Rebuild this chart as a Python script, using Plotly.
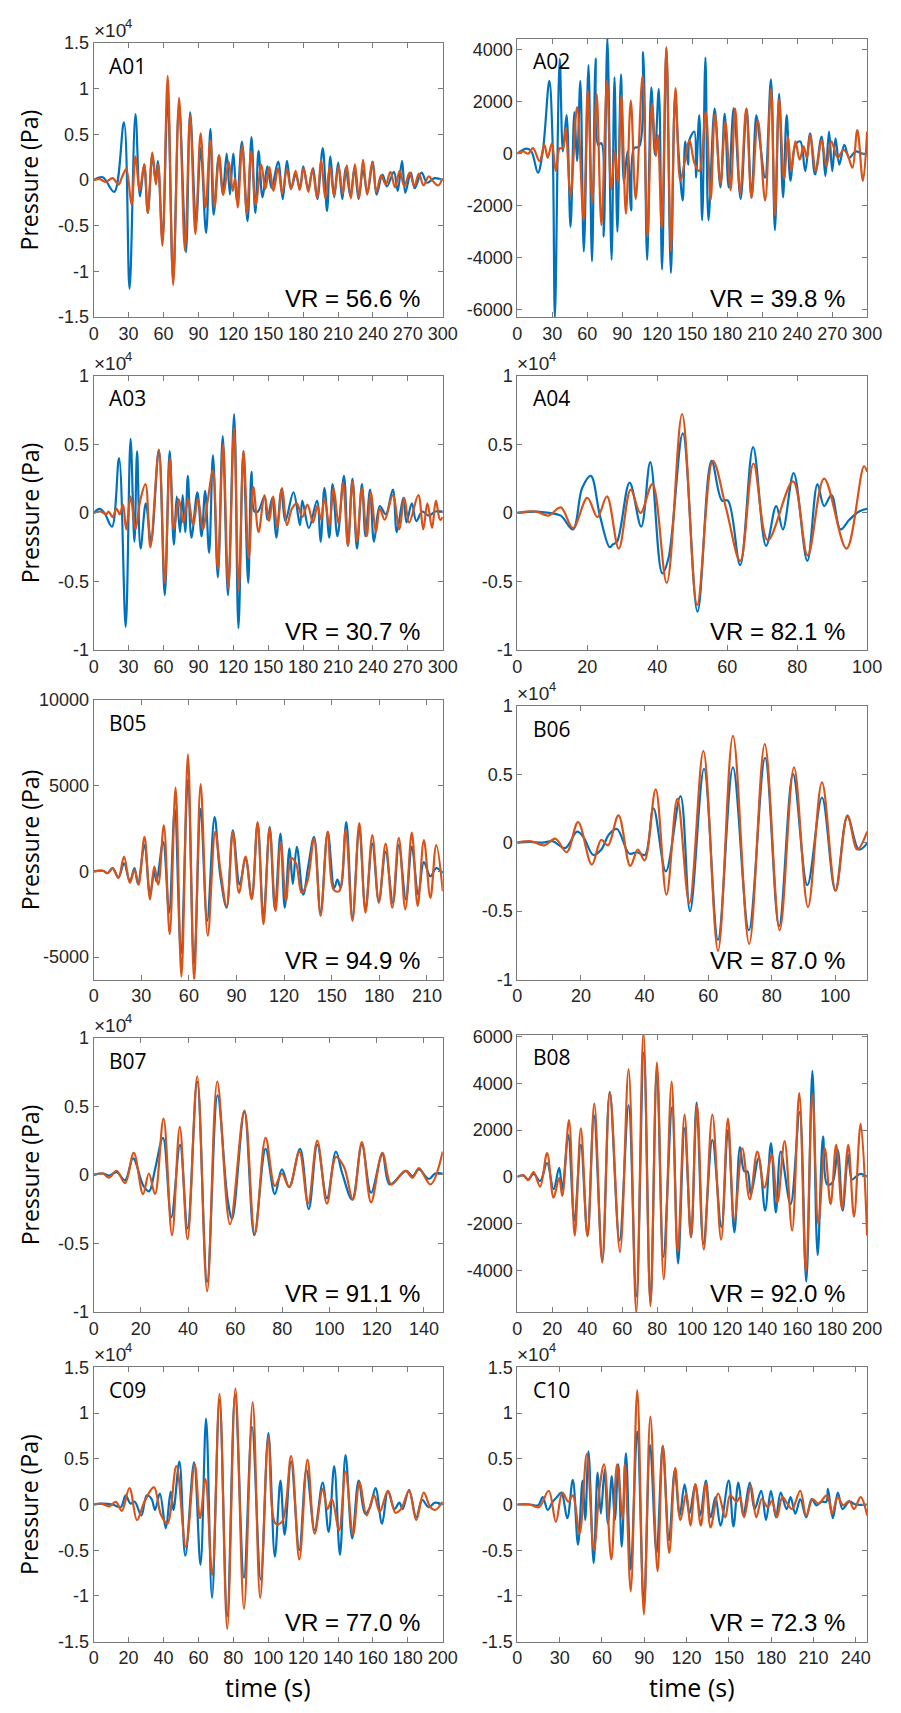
import plotly.graph_objects as go

W, H = 901, 1713

# ---- waveform data: time (s) and pressure ----
# Panels marked "1e4" hold pressure in units of 10^4 Pa, the others in Pa.
# "obs" = observed record (blue), "syn" = synthetic waveform (orange).

# A01 (1e4)
a01_t_obs = [0, 7.8, 17.6, 26, 30.8, 35.9, 39.8, 43.4, 46.5, 50.4, 53.2, 55.2, 59.1, 63.6, 68.3, 73.4, 79.3, 82.9, 88, 91.9,
             96.6, 100.3, 103.1, 107.6, 110.9, 114.3, 117.1, 119.9, 123.2, 127.4, 132.2, 135.6, 138.9, 141.7, 145.1, 149.3,
             152.9, 158.5, 162.5, 166.1, 169.7, 173.7, 177.3, 180.1, 184.3, 188.5, 192.2, 196.9, 200.5, 203.4, 206.7, 210.1,
             213.7, 216.5, 220.7, 224.1, 227.7, 231.4, 235.3, 239.8, 243.1, 248.2, 252.1, 258, 261.3, 265, 267.8, 272.5,
             275.9, 281.8, 286.5, 293, 300]
a01_p_obs = [0, 0.03, -0.13, 0.63, -1.19, 0.72, -0.18, 0.17, -0.36, 0.27, -0.01, 0.21, -0.66, 0.92, -1.1, 0.82, -0.79, 0.74, -0.48, 0.35,
             -0.58, 0.56, -0.38, 0.27, -0.16, 0.29, -0.16, 0.29, -0.23, 0.42, -0.45, 0.47, -0.36, 0.32, -0.19, 0.15,
             -0.09, 0.2, -0.21, 0.21, -0.09, 0.06, -0.09, 0.15, -0.1, 0.13, -0.21, 0.35, -0.34, 0.26, -0.19, 0.19,
             -0.21, 0.13, -0.18, 0.13, -0.21, 0.11, -0.14, 0.2, -0.16, 0.06, -0.07, 0.09, -0.12, 0.21, -0.14, 0.08,
             -0.09, 0.08, -0.03, 0.02, 0.0]
a01_t_syn = [0, 5, 10.6, 16.2, 21.3, 24.6, 28, 32.5, 35.9, 39.5, 43.4, 46.5, 50.4, 53.5, 55.5, 59.1, 63.6, 68.3, 73.4, 78.4,
             82.9, 87.4, 91.9, 96.1, 100.3, 103.9, 107.8, 111.5, 116, 119.5, 121.5, 123.8, 127.7, 131.6, 135.3, 139.3,
             144, 147.5, 151, 154.5, 158.5, 162, 166, 169.5, 173.5, 177, 180.5, 184.5, 188, 192, 195.5, 199, 203, 206.5,
             210.5, 214, 217.5, 221, 224.5, 228, 231.5, 235, 239.5, 243, 247, 251, 255, 259, 263, 267, 271.5, 275.5,
             279.5, 283.5, 288, 292, 296, 300]
a01_p_syn = [0, 0.01, -0.02, 0.02, -0.05, 0.04, 0.12, -0.27, 0.26, -0.12, 0.17, -0.36, 0.3, -0.05, 0.17, -0.72, 1.14, -1.15, 0.9, -0.77,
             0.71, -0.59, 0.51, -0.3, 0.44, -0.3, 0.27, -0.16, 0.2, -0.12, 0.02, -0.3, 0.38, -0.37, 0.31, -0.27,
             0.17, -0.1, 0.14, -0.12, 0.13, -0.15, 0.12, -0.1, 0.1, -0.11, 0.13, -0.13, 0.12, -0.2, 0.22, -0.2, 0.15, -0.17,
             0.15, -0.15, 0.16, -0.2, 0.17, -0.2, 0.22, -0.16, 0.2, -0.13, 0.05, -0.05, 0.09, -0.08, 0.1, -0.07, 0.08, -0.07,
             0.07, -0.06, 0.04, -0.02, -0.06, 0.02]

# A02 (Pa)
a02_t_obs = [0, 7.8, 12, 17.6, 21.8, 27.4, 30.2, 32.2, 36.3, 39.1, 42.2, 45.6, 48.9, 51.2, 54, 57, 61, 64, 67.1, 69.3, 72.1,
             74.1, 77.2, 80.8, 83.3, 85.8, 88.9, 91.4, 94.5, 97.6, 100.1, 104.6, 107.9, 111.3, 114.9, 118, 121.3, 124.1,
             127.8, 131.7, 135.3, 138.4, 141.8, 144, 146.5, 147.6, 151.8, 153.2, 156, 158.5, 161.3, 163.9, 169.2, 174.2,
             177.8, 181.2, 185.6, 191.5, 196.6, 200.8, 205, 208, 212.5, 217.5, 220.9, 224.5, 227.9, 231, 234.3, 238.5,
             242.7, 246.9, 251.1, 255.3, 260.9, 264.2, 267.3, 270.1, 272.9, 276.2, 280.4, 284.6, 290.2, 295.8, 300]
a02_p_obs = [0, 190, 90, -730, 90, 2800, 470, -6280, 3650, 90, 1480, -2810, 1600, -290, 2800, -3760, 3400, -4140, 3650, 340, 400,
             -3190, 4440, -4080, 2930, -3000, 3050, -1110, 90, -2180, 210, 280, 3900, -4080, 2550, -40, 2490, -4450,
             4060, -4580, 2230, -40, -1800, 470, -420, 530, 850, -920, 1480, -2560, 3690, -2560, 1730, -1300,
             1540, -1300, 1750, -1740, 1730, -1680, 1480, 470, -920, 2860, -2940, 2300, -1680, 1480, -1050, 340,
             470, -670, 780, -800, 660, -860, 850, -670, 590, -420, 340, -160, 90, 0, 0]
a02_t_syn = [0, 5, 9.2, 13.4, 19, 23.2, 26, 29.6, 33, 36.3, 39.1, 41.4, 45.6, 51.2, 56.8, 60.4, 64.3, 68, 72.1, 76.9, 80.5,
             83.6, 86.1, 89.2, 93.1, 97.3, 101.5, 107.4, 111.6, 115.5, 118.8, 120.5, 123.9, 127.8, 131.7, 135.6, 139.8,
             143.4, 147.6, 151.8, 156, 161.6, 165.8, 169.4, 174.2, 178.4, 182.9, 186.8, 191.2, 196.3, 200.8, 206.3,
             212.5, 217.5, 220.9, 224.5, 228.7, 232.1, 234.9, 238.5, 242.1, 245.5, 248.3, 251.1, 256.1, 260.9, 265.1,
             269.3, 274.8, 279.6, 283.2, 287.4, 291.6, 296.4, 300]
a02_p_syn = [0, 90, 0, 210, -290, 340, -160, 400, -670, 210, 210, 970, -1620, 1790, -2560, 2420, -1870, 2300, -2750, 2800, -1360,
             90, -1110, 2230, -2310, 2040, -1740, 2990, -3190, 1920, -100, 720, -2880, 4100, -3760, 2520, -1050,
             -350, 530, -350, -670, 1600, -1780, 1500, -1150, 1220, -1400, 1730, -1550, 1730, -1700, 1290,
             -1800, 2490, -2370, 2110, -980, 660, -670, 470, -230, 280, -160, 720, -670, 530, -480,
             470, -160, 150, -40, -540, 910, -1050, 850]

# A03 (1e4)
a03_t_obs = [0, 5, 9.2, 15.7, 21.8, 27.5, 31.7, 35, 37.3, 40.3, 44.8, 49.3, 56, 61.1, 65.3, 68.9, 71.4, 74.2, 76.5, 78.7, 80.9,
             84, 89.1, 92.7, 95.8, 99.2, 102.5, 106.7, 110.9, 115.4, 120.7, 124.4, 128.6, 132.8, 135.6, 138.1, 141.2,
             146.8, 149.3, 153.5, 156.9, 161.3, 164.7, 171.7, 177.3, 179.3, 184.9, 191.9, 195, 198.3, 202.5, 205.3,
             209.5, 215.1, 218.5, 222.4, 226.3, 230.5, 233.6, 237.5, 240.9, 245.9, 251, 257.1, 260.5, 266.1, 268.9,
             273.4, 277.3, 282.3, 288, 293.6, 300]
a03_p_obs = [0, 0.03, 0, -0.1, 0.4, -0.83, 0.54, -0.21, 0.45, -0.26, 0.07, -0.21, 0.46, -0.6, 0.45, -0.23, 0.12, -0.14, 0.13, -0.14, 0.27,
             -0.18, 0.15, -0.17, 0.16, -0.29, 0.42, -0.47, 0.56, -0.6, 0.72, -0.84, 0.45, -0.51, 0.3, 0.01, 0.01,
             0.12, -0.05, 0.11, -0.18, 0.17, -0.06, 0.15, -0.09, 0.09, -0.11, 0.09, -0.21, 0.18, -0.18, 0.21,
             -0.17, 0.27, -0.24, 0.25, -0.26, 0.21, -0.17, 0.17, -0.21, 0.05, -0.01, 0.17, -0.14, 0.11, -0.07,
             0.07, -0.06, 0.01, -0.02, 0.01, 0.01]
a03_t_syn = [0, 6.4, 10.6, 12.9, 16.2, 19.6, 22.4, 25.2, 28, 31.7, 35.9, 40, 44.5, 48.7, 56, 61.1, 65.5, 68.9, 73.1, 77, 81.2,
             85.4, 89.6, 93.8, 98, 102.5, 106.7, 111.2, 115.7, 120.7, 124.6, 128.8, 133.3, 137.2, 141.7, 146.8, 150.7,
             154.3, 157.7, 161.9, 166.1, 170.3, 174.5, 179.3, 183.7, 188.5, 192.2, 195.5, 198.3, 202.5, 206.2, 210.4,
             214.3, 218.5, 222.4, 226.3, 230.5, 234.7, 238.1, 242.6, 245.9, 250.1, 257.1, 262.7, 266.9, 271.1, 279,
             283.2, 286.8, 290.8, 294.1, 297.7, 300]
a03_p_syn = [0, 0.01, -0.01, 0.01, -0.03, 0.03, -0.01, 0.06, -0.12, 0.12, -0.12, 0.09, 0.21, -0.25, 0.46, -0.51, 0.4, -0.12, 0.1, -0.07, 0.1,
             -0.09, 0.1, -0.12, 0.09, 0.31, -0.41, 0.5, -0.55, 0.62, -0.57, 0.45, -0.33, 0.19, -0.14, 0.13, -0.06,
             0.12, -0.11, 0.18, -0.09, 0.03, 0.07, -0.03, 0.06, -0.07, 0.05, -0.05, 0.11, -0.09, 0.18, -0.08,
             0.22, -0.24, 0.23, -0.21, 0.18, -0.17, 0.15, -0.14, 0.03, -0.05, 0.13, -0.12, 0.11, -0.07, 0.13,
             -0.12, 0.07, -0.11, 0.09, -0.05, -0.03]

# A04 (1e4)
a04_t_obs = [0, 5.4, 9.1, 12.4, 15.9, 18.5, 21, 23.6, 26.4, 27.3, 28.5, 32.1, 35.4, 38, 41.4, 43.2, 47.3, 51.5, 55.5, 58.5, 60.2,
             63.7, 67.4, 71.1, 74, 75.9, 79, 82.9, 85.8, 87.7, 89.8, 92.4, 94.9, 97.7, 100]
a04_p_obs = [0, 0.01, 0, -0.02, -0.12, 0.18, 0.27, -0.02, -0.25, -0.23, -0.21, 0.22, -0.1, 0.37, -0.44, -0.33, 0.58, -0.72, 0.38, 0.09, 0.09,
             -0.38, 0.48, -0.24, 0.05, -0.12, 0.29, -0.35, 0.21, 0.05, 0.13, -0.12, -0.05, 0.01, 0.03]
a04_t_syn = [0, 2.6, 5.4, 8.9, 12.4, 15.9, 20, 22.9, 25.6, 29, 32.4, 35.2, 38.6, 42.7, 47.1, 51.4, 55.9, 59.7, 63.7, 67.5, 71.6,
             78.8, 83, 87.7, 94.1, 99.1, 100]
a04_p_syn = [0, 0.01, 0.01, -0.02, 0.04, -0.11, 0.11, -0.03, 0.12, -0.26, 0.17, 0.0, 0.21, -0.51, 0.72, -0.67, 0.38, 0.03, -0.35, 0.36, -0.2,
             0.23, -0.31, 0.25, -0.26, 0.34, 0.3]

# B05 (Pa)
b05_t_obs = [0, 5.8, 8.8, 11.9, 15.6, 19.1, 22.8, 25.7, 27.9, 32, 35.5, 38.2, 39.6, 43.8, 47.5, 51.1, 55, 59.4, 63.3, 67.4, 71.5,
             76.2, 79.7, 83.8, 87.7, 92, 95.7, 99.6, 103.3, 107, 110.9, 114.2, 117.7, 120.4, 123.4, 125.5, 128, 132.1,
             135.2, 138.9, 143, 147.5, 151.6, 153.6, 155.7, 159.2, 163.1, 167.4, 171.3, 175.6, 179.7, 184, 188.6, 192.3,
             196.8, 200.5, 204.6, 208.1, 212.2, 215.9, 220]
b05_p_obs = [0, 40, -100, 190, -350, 480, -580, 190, -730, 1540, -1350, 0, -580, 1730, -2400, 3650, -4810, 5380, -5380, 3650, -2880,
             3170, -190, -2120, 2400, -770, 770, -1540, 2790, -2690, 2600, -2210, 2210, -2120, 1350, -730, 1440, -1350,
             290, 2020, -2400, 2310, -960, -480, -960, 2880, -2690, 2500, -2210, 1630, -1730, 1150, -1830, 1540,
             -1630, 1440, -1350, 540, -290, 190, -100]
b05_t_syn = [0, 5.8, 8.8, 11.9, 15.6, 19.1, 22.8, 25.7, 28.3, 32, 35.5, 38.2, 40.7, 44.2, 47.9, 51.6, 55.3, 59.4, 63.3, 67.4, 71.9,
             76.6, 79.7, 83.8, 87.7, 91.6, 95.7, 99.6, 103.3, 107, 110.9, 114.6, 117.9, 121.2, 124.5, 127.5, 131, 134.7,
             138.9, 143, 147.5, 151.2, 154.7, 158.8, 163.1, 167.4, 171.3, 175.6, 179.7, 184, 188.2, 192.3, 196.4, 200.5,
             204.2, 208.1, 212.2, 215.9, 220]
b05_p_syn = [0, 40, -100, 190, -380, 870, -670, 100, -770, 2020, -1630, 290, -770, 2690, -3650, 4900, -6150, 6830, -6340, 5100, -3750,
             2310, 190, -2020, 2310, -1250, 870, -1630, 2880, -3080, 2540, -2310, 1730, -1730, 770, 480, -1250, -580,
             1920, -2600, 2310, -1060, -1150, 2400, -2880, 2830, -2400, 2120, -1830, 1630, -2120, 1960, -2210, 2270,
             -2020, 1830, -1540, 1540, -1150]

# B06 (1e4)
b06_t_obs = [0, 3.9, 8, 11.1, 15, 18.8, 20.8, 23.9, 26.4, 28.8, 31.3, 35.2, 37.7, 40.1, 42.8, 46.7, 51.3, 54.3, 58.7, 63.1, 67.8,
             72.8, 77.9, 82.3, 86.7, 91.2, 95.8, 100, 103.8, 107.4, 110]
b06_p_obs = [0, 0.005, 0, 0.01, -0.04, 0.08, 0.04, -0.09, -0.05, 0.06, 0.1, -0.08, -0.07, -0.09, 0.25, -0.21, 0.34, -0.5, 0.54, -0.71, 0.55,
             -0.64, 0.62, -0.61, 0.5, -0.31, 0.33, -0.35, 0.19, -0.05, -0.005]
b06_t_syn = [0, 4.4, 8.5, 11.9, 15.5, 19.1, 23.4, 26.4, 28.5, 31.8, 35.5, 37.9, 40, 43.5, 46.9, 50.3, 54.1, 58.5, 63.1, 67.8, 72.9,
             77.8, 82.5, 87, 91.4, 95.8, 100.1, 103.8, 106.9, 110]
b06_p_syn = [0, 0.01, -0.02, 0.03, -0.07, 0.15, -0.16, 0.02, -0.02, 0.2, -0.17, -0.05, -0.13, 0.39, -0.38, 0.32, -0.44, 0.67, -0.79, 0.78, -0.74,
             0.72, -0.64, 0.55, -0.47, 0.44, -0.35, 0.2, -0.05, 0.08]

# B07 (1e4)
b07_t_obs = [0, 3.9, 6.6, 9.7, 13.3, 16.7, 21.1, 23.5, 26, 29.4, 32.9, 36.6, 39.8, 43.9, 48.1, 52.5, 56.8, 58.7, 63.9, 68.1, 72.9,
             76.8, 79.8, 82.9, 87.5, 91.2, 94.8, 98.9, 102.7, 105.4, 109.6, 113.7, 117.6, 122.4, 125.5, 132.4, 135.2,
             137.9, 142.1, 144.8, 148]
b07_p_obs = [0, 0.01, -0.005, 0.02, -0.04, 0.12, -0.08, -0.12, 0.04, 0.27, -0.31, 0.22, -0.39, 0.68, -0.78, 0.58, -0.18, -0.32, 0.46, -0.44, 0.19,
             -0.14, 0.04, -0.09, 0.19, -0.25, 0.22, -0.17, 0.17, 0.01, -0.18, 0.22, -0.13, 0.15, -0.07, 0.03, -0.01,
             0.04, -0.03, 0.01, 0.01]
b07_t_syn = [0, 3.9, 6.4, 9.7, 13.3, 17, 20.9, 23.4, 26, 29.6, 33.2, 36.5, 39.8, 43.9, 48.1, 52.4, 57.8, 63.9, 68.3, 72.9, 76.8,
             79.8, 82.9, 87.2, 90.9, 94.8, 98.9, 102.7, 106.1, 109.9, 113.7, 117.6, 122.4, 126.2, 132.1, 135.2, 137.9,
             142.8, 148]
b07_p_syn = [0, 0.01, -0.02, 0.03, -0.06, 0.16, -0.14, 0.01, -0.14, 0.41, -0.44, 0.35, -0.47, 0.72, -0.85, 0.68, -0.36, 0.47, -0.43, 0.27, -0.08,
             0.01, -0.09, 0.17, -0.21, 0.25, -0.21, 0.13, 0.06, -0.18, 0.24, -0.2, 0.16, -0.07, 0.03, -0.02, 0.05,
             -0.07, 0.17]

# B08 (Pa)
b08_t_obs = [0, 3.4, 6.2, 9.3, 13, 17, 20.7, 23.9, 25.7, 29.1, 32.6, 36.3, 40.1, 43.8, 48.6, 52.8, 58.4, 63.6, 68, 72.3, 76.1,
             79.8, 83.5, 88.5, 91.9, 95.6, 99.4, 102.5, 106.4, 111.5, 116.7, 120.4, 124.1, 127.3, 129.7, 131.6, 133.5,
             138, 141.7, 145, 147.8, 150.6, 156.2, 161.4, 165.2, 168.7, 171.7, 174.8, 177.1, 180.1, 183.2, 186, 189.2,
             191.3, 193.9, 196.3, 200]
b08_p_obs = [0, 60, -110, 130, -180, 590, -530, 380, -530, 1790, -1870, 1370, -2510, 2630, -3560, 3620, -2720, 3060, -5110, 5310, -5390,
             4600, -3420, 2990, -3700, 2070, -2580, 3170, -2860, 1580, -2150, 2000, -2370, 1270, 240, 240, -750,
             800, -1450, 1440, -1520, 1080, -1170, 2770, -4480, 4530, -3350, 1720, -320, -250, 1150, -1450, 940,
             -110, 30, 130, 0]
b08_t_syn = [0, 3.4, 6.2, 9.3, 13, 17, 20.7, 23.9, 25.7, 29.5, 32.8, 36.3, 40.1, 44, 48.5, 52.9, 58.7, 63.6, 68, 72.1, 76.1,
             79.8, 83.7, 88.2, 91.7, 95.6, 99.2, 102.7, 106.6, 111.5, 116.5, 120.4, 124.1, 128.6, 132.9, 137.2, 141.3,
             145.4, 148.7, 152.8, 157.1, 161.2, 165, 168.7, 172.1, 175.8, 179.1, 182.3, 185.7, 189.2, 192.5, 196.3, 200]
b08_p_syn = [0, 70, -140, 200, -420, 1010, -890, -40, -820, 2420, -2510, 2070, -2550, 3130, -3670, 3620, -3210, 4600, -5810, 6180, -5530,
             4890, -4380, 4070, -3210, 2660, -2580, 3060, -3110, 2660, -2690, 2490, -1870, 1220, -960, 1080, -460,
             940, -1100, 1530, -2300, 3580, -4060, 3510, -2010, 1220, -1170, 1370, -1380, 1370, -1700, 2280, -2510]

# C09 (1e4)
c09_t_obs = [0, 5.2, 10.8, 15.5, 18.3, 21.1, 23.5, 27.3, 30.4, 33.2, 35.1, 37.9, 41.3, 44.1, 45.7, 49.1, 52.5, 57.5, 61.2, 64.4, 67.8,
             72.1, 76.5, 81, 86.1, 90.7, 95.7, 100.1, 103.8, 107, 109.4, 113.1, 117.8, 121.9, 126.6, 131.2, 134.6,
             137.8, 141.1, 144.3, 148.1, 151.8, 155.5, 158.3, 161.5, 165.2, 168.6, 172.3, 175.1, 177, 180.7, 184.8,
             188.2, 191.9, 195.6, 200]
c09_p_obs = [0, 0.01, 0, -0.03, 0.1, 0.01, 0.03, -0.12, 0.1, 0.06, -0.06, 0.12, -0.26, 0.14, -0.06, 0.47, -0.56, 0.46, -0.66, 0.94, -1.02,
             1.14, -1.22, 1.2, -0.8, 0.85, -0.82, 0.78, -0.57, 0.26, -0.33, 0.47, -0.5, 0.38, -0.28, 0.24, -0.3,
             0.42, -0.55, 0.54, -0.37, 0.26, -0.1, -0.03, 0.18, -0.21, 0.15, -0.05, 0.02, -0.05, 0.16, -0.14,
             0.05, -0.03, 0.02, 0]
c09_t_syn = [0, 4.3, 9, 12.7, 16.1, 20.5, 24.8, 29.1, 34.5, 38.5, 42.2, 47.4, 52.8, 57.9, 60.9, 64, 67.9, 72.1, 76.5, 81.2, 86.1,
             91.1, 95.4, 100.1, 104.2, 107.9, 113.1, 117.8, 122.5, 126.6, 131.2, 134, 136.5, 140.6, 144.3, 148.6, 152.3,
             156.4, 160.6, 163.9, 168.6, 172.9, 176.1, 180.7, 184.8, 189.1, 192.9, 195.6, 200]
c09_p_syn = [0, 0.01, -0.02, 0.03, -0.07, 0.18, -0.17, 0.03, 0.19, -0.11, -0.21, 0.42, -0.46, 0.44, -0.15, 0.28, -0.77, 1.21, -1.36, 1.27, -1.14,
             1.12, -1.02, 0.73, -0.21, -0.19, 0.53, -0.6, 0.49, -0.32, 0.17, -0.05, 0.06, -0.28, 0.36, -0.33, 0.24,
             -0.12, 0.1, -0.08, 0.15, -0.09, -0.05, 0.15, -0.17, 0.13, -0.03, -0.06, 0.03]

# C10 (1e4)
c10_t_obs = [0, 8.8, 14.6, 18, 21.5, 25, 28, 31.2, 35.4, 39.3, 43, 46.2, 48.1, 50.4, 54.1, 56.9, 59.2, 61.9, 64.2, 67, 69.1,
             71.6, 74, 77, 80.4, 85, 89.7, 94.1, 98.7, 103.1, 107.5, 111.6, 115.1, 118.6, 122, 126.2, 129.7, 133.6,
             137, 140.5, 144, 149.8, 153.2, 156.7, 160.2, 164.8, 168.2, 172.9, 176.3, 179.8, 183.3, 186.7, 190.9,
             193.7, 197.1, 200.6, 204.8, 208.7, 212.2, 215.6, 219.1, 220.2, 223.7, 227.2, 230.6, 235.3, 239.9, 248]
c10_p_obs = [0, 0, -0.01, 0.08, -0.06, 0.03, 0.08, 0.13, -0.15, 0.27, -0.44, 0.26, -0.17, 0.58, -0.64, 0.35, -0.1, 0.38, -0.21, 0.31, -0.17,
             0.44, -0.46, 0.56, -0.71, 0.8, -1.11, 0.65, -0.53, 0.64, -0.39, 0.37, -0.12, 0.22, -0.1, 0.22, -0.12, 0.26,
             -0.14, 0.08, -0.23, 0.26, -0.24, 0.24, -0.12, 0.24, -0.05, 0.15, -0.17, 0.15, -0.14, 0.13, -0.05,
             0.08, -0.1, 0.06, -0.14, 0.06, -0.01, 0.03, 0.03, 0.17, -0.15, 0.13, -0.05, 0.03, 0, 0]
c10_t_syn = [0, 8.8, 15.3, 22.2, 27.3, 31.9, 36.1, 39.3, 44.1, 49.2, 54.3, 58.5, 61.5, 66.6, 70.7, 74.6, 76.3, 80.4, 85, 89.7,
             94.3, 99.4, 103.1, 107.7, 111.9, 115.6, 119.7, 122.7, 126.2, 130.1, 133.6, 137, 142.4, 147.4, 150.9, 155.5,
             157.8, 160.8, 165.5, 169.4, 173.3, 177.5, 180.5, 184, 187.9, 191.4, 194.8, 200.6, 204.8, 209.4, 213.3,
             219.5, 223.2, 227.2, 231.1, 235.3, 238.7, 243.4, 248]
c10_p_syn = [0, 0, -0.03, 0.15, -0.19, 0.13, 0.03, 0.1, -0.32, 0.55, -0.5, 0.21, 0.44, -0.6, 0.44, -0.15, 0.44, -0.95, 1.25, -1.2,
             0.96, -0.73, 0.64, -0.53, 0.4, -0.17, 0.12, -0.23, 0.22, -0.23, 0.23, -0.25, 0.12, -0.14, 0.1, 0.03,
             0.08, -0.14, 0.21, -0.14, 0.06, -0.03, 0.04, -0.14, 0.08, 0.01, -0.05, 0.15, -0.12, 0.06, 0.01,
             0.1, -0.1, 0.08, -0.01, 0.04, -0.05, 0.08, -0.12]

# variance reductions
vr_values = {"A01": 56.6, "A02": 39.8, "A03": 30.7, "A04": 82.1, "B05": 94.9,
             "B06": 87.0, "B07": 91.1, "B08": 92.0, "C09": 77.0, "C10": 72.3}

# ---- panel definitions ----
def ticks(vals):
    return dict(tickvals=vals, ticktext=[f"{v:g}" for v in vals])

COLS = [(90.7, 447.7), (524.0, 881.7)]
panels = [
    dict(name="A01", col=0, y=(33.3, 310.7), t_obs=a01_t_obs, p_obs=a01_p_obs, t_syn=a01_t_syn, p_syn=a01_p_syn,
         xr=[0, 300], xt=list(range(0, 301, 30)), yr=[-1.5, 1.5], yt=[-1.5, -1, -0.5, 0, 0.5, 1, 1.5], exp=True),
    dict(name="A02", col=1, y=(29.0, 310.7), t_obs=a02_t_obs, p_obs=a02_p_obs, t_syn=a02_t_syn, p_syn=a02_p_syn,
         xr=[0, 300], xt=list(range(0, 301, 30)), yr=[-6280, 4420], yt=[-6000, -4000, -2000, 0, 2000, 4000], exp=False),
    dict(name="A03", col=0, y=(370.0, 647.7), t_obs=a03_t_obs, p_obs=a03_p_obs, t_syn=a03_t_syn, p_syn=a03_p_syn,
         xr=[0, 300], xt=list(range(0, 301, 30)), yr=[-1, 1], yt=[-1, -0.5, 0, 0.5, 1], exp=True),
    dict(name="A04", col=1, y=(370.0, 647.7), t_obs=a04_t_obs, p_obs=a04_p_obs, t_syn=a04_t_syn, p_syn=a04_p_syn,
         xr=[0, 100], xt=list(range(0, 101, 20)), yr=[-1, 1], yt=[-1, -0.5, 0, 0.5, 1], exp=True),
    dict(name="B05", col=0, y=(698.3, 981.0), t_obs=b05_t_obs, p_obs=b05_p_obs, t_syn=b05_t_syn, p_syn=b05_p_syn,
         xr=[0, 220], xt=list(range(0, 211, 30)), yr=[-6310, 10000], yt=[-5000, 0, 5000, 10000], exp=False),
    dict(name="B06", col=1, y=(704.0, 981.0), t_obs=b06_t_obs, p_obs=b06_p_obs, t_syn=b06_t_syn, p_syn=b06_p_syn,
         xr=[0, 110], xt=list(range(0, 101, 20)), yr=[-1, 1], yt=[-1, -0.5, 0, 0.5, 1], exp=True),
    dict(name="B07", col=0, y=(1040.0, 1317.3), t_obs=b07_t_obs, p_obs=b07_p_obs, t_syn=b07_t_syn, p_syn=b07_p_syn,
         xr=[0, 148], xt=list(range(0, 141, 20)), yr=[-1, 1], yt=[-1, -0.5, 0, 0.5, 1], exp=True),
    dict(name="B08", col=1, y=(1036.7, 1317.3), t_obs=b08_t_obs, p_obs=b08_p_obs, t_syn=b08_t_syn, p_syn=b08_p_syn,
         xr=[0, 200], xt=list(range(0, 201, 20)), yr=[-5775, 6080], yt=[-4000, -2000, 0, 2000, 4000, 6000], exp=False),
    dict(name="C09", col=0, y=(1373.3, 1651.0), t_obs=c09_t_obs, p_obs=c09_p_obs, t_syn=c09_t_syn, p_syn=c09_p_syn,
         xr=[0, 200], xt=list(range(0, 201, 20)), yr=[-1.5, 1.5], yt=[-1.5, -1, -0.5, 0, 0.5, 1, 1.5], exp=True),
    dict(name="C10", col=1, y=(1373.3, 1651.0), t_obs=c10_t_obs, p_obs=c10_p_obs, t_syn=c10_t_syn, p_syn=c10_p_syn,
         xr=[0, 248], xt=list(range(0, 241, 30)), yr=[-1.5, 1.5], yt=[-1.5, -1, -0.5, 0, 0.5, 1, 1.5], exp=True),
]

BLUE = "#0072BD"
ORANGE = "#D95319"
AX = "#262626"
SANS = "Liberation Sans, Arial, sans-serif"
LABEL_FONT = "Open Sans, Noto Sans, sans-serif"
TICK_FONT = dict(family=SANS, size=18, color=AX)

fig = go.Figure()
layout = dict(width=W, height=H, margin=dict(l=0, r=0, t=0, b=0),
              paper_bgcolor="white", plot_bgcolor="white", showlegend=False)
annotations = []

for i, p in enumerate(panels):
    n = "" if i == 0 else str(i + 1)
    xa, ya = "x" + n, "y" + n
    x0, x1 = COLS[p["col"]]
    top, bot = p["y"]
    for t, v, c in ((p["t_obs"], p["p_obs"], BLUE), (p["t_syn"], p["p_syn"], ORANGE)):
        fig.add_trace(go.Scatter(x=t, y=v, mode="lines", xaxis=xa, yaxis=ya,
                                 line=dict(color=c, width=2.2, shape="spline", smoothing=1.0),
                                 hoverinfo="skip"))
    common = dict(showgrid=False, zeroline=False, showline=True, linecolor="#7a7a7a", linewidth=1,
                  mirror="ticks", ticks="inside", ticklen=5, tickcolor="#7a7a7a", tickfont=TICK_FONT)
    layout["xaxis" + n] = dict(domain=[x0 / W, x1 / W], range=p["xr"], anchor=ya,
                               **ticks(p["xt"]), **common)
    layout["yaxis" + n] = dict(domain=[1 - bot / H, 1 - top / H], range=p["yr"], anchor=xa,
                               **ticks(p["yt"]), **common)
    # station name
    annotations.append(dict(x=(x0 + 14) / W, y=1 - (top + 23) / H, xref="paper", yref="paper",
                            text=p["name"], showarrow=False, xanchor="left", yanchor="middle",
                            font=dict(family=LABEL_FONT, size=21, color="black")))
    # variance reduction
    annotations.append(dict(x=(x1 - 21) / W, y=1 - (bot - 19) / H, xref="paper", yref="paper",
                            text=f"VR = {vr_values[p['name']]:.1f} %", showarrow=False,
                            xanchor="right", yanchor="middle",
                            font=dict(family=SANS, size=24, color="black")))
    # exponent marker: "×10" with a raised "4"
    if p["exp"]:
        annotations.append(dict(x=(x0 - 1) / W, y=1 - (top - 1) / H, xref="paper", yref="paper",
                                text="×10", showarrow=False, xanchor="left", yanchor="bottom",
                                borderpad=0, font=dict(family=SANS, size=19, color=AX)))
        annotations.append(dict(x=(x0 + 31) / W, y=1 - (top - 11) / H, xref="paper", yref="paper",
                                text="4", showarrow=False, xanchor="left", yanchor="bottom",
                                borderpad=0, font=dict(family=SANS, size=13, color=AX)))
    # y-axis title on the left column
    if p["col"] == 0:
        annotations.append(dict(x=25 / W, y=1 - (top + bot) / 2 / H, xref="paper", yref="paper",
                                text="Pressure (Pa)", showarrow=False, textangle=-90,
                                xanchor="center", yanchor="middle",
                                font=dict(family=LABEL_FONT, size=23, color="black")))
    # x-axis title under the bottom row
    if p["name"] in ("C09", "C10"):
        annotations.append(dict(x=(x0 + x1) / 2 / W, y=1 - 1697 / H, xref="paper", yref="paper",
                                text="time (s)", showarrow=False, xanchor="center", yanchor="middle",
                                font=dict(family=LABEL_FONT, size=25, color="black")))

layout["annotations"] = annotations
fig.update_layout(**layout)
fig.write_html("out.html")
